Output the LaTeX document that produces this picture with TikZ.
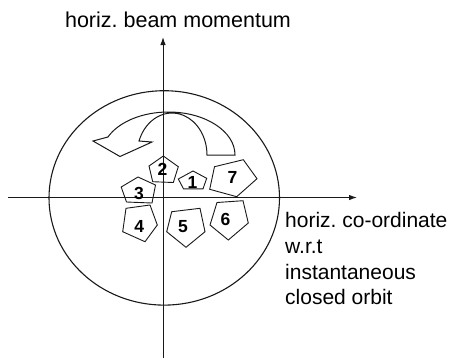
\documentclass[tikz,border=0pt]{standalone}
\usepackage{fontspec}
\setmainfont{Liberation Sans}
\frenchspacing
\usetikzlibrary{arrows.meta}
\begin{document}
\begin{tikzpicture}[x=1pt,y=-1pt,
  ln/.style={line width=1pt, black!90},
  axis/.style={ln, -{Latex[length=8pt,width=5.5pt]}},
  pent/.style={line width=0.9pt, black!90, line join=miter},
  num/.style={font=\fontsize{17.5}{17.5}\selectfont\bfseries, inner sep=0pt},
  lbl/.style={font=\fontsize{21}{25}\selectfont, inner sep=0pt, anchor=base west}]
\useasboundingbox (0,0) rectangle (454,360);
% axes
\coordinate (vb) at (163,358);
\coordinate (vt) at (163,37);
\coordinate (hl) at (8,197.5);
\coordinate (hr) at (357,197.5);
\draw[axis] (vb) -- (vt);
\draw[axis] (hl) -- (hr);
% orbit ellipse
\coordinate (c) at (164.25,197.9);
\draw[ln, line width=1.1pt] (c) ellipse[x radius=115.25pt, y radius=107.2pt];
% curved block arrow
\draw[ln, line join=miter] (235,155)
  arc[start angle=0, end angle=155.25, x radius=66.6pt, y radius=43pt]
  -- (93,141) -- (120,156.5) -- (152,142) -- (139,141)
  arc[start angle=160.5, end angle=0, x radius=35pt, y radius=42pt]
  -- cycle;
% pentagons
\draw[pent] (193,171) -- (206.7,178.3) -- (203,188.8) -- (183.5,188.8) -- (178.3,179) -- cycle;
\node[num] (n1) at (192.5,182) {1};
\draw[pent] (163.3,156) -- (178.3,166.7) -- (173.3,182.5) -- (152.7,181.7) -- (149,166) -- cycle;
\node[num] (n2) at (162.5,169.5) {2};
\draw[pent] (138,177) -- (155.5,185) -- (152,203) -- (126.5,202) -- (121.2,187) -- cycle;
\node[num] (n3) at (139,193.5) {3};
\draw[pent] (126,208.3) -- (150,205) -- (157.3,225) -- (145,241.7) -- (122.7,231.7) -- cycle;
\node[num] (n4) at (139.3,226.7) {4};
\draw[pent] (171.7,211.7) -- (200,208.3) -- (205,231.7) -- (186,247.3) -- (166.7,231.7) -- cycle;
\node[num] (n5) at (183,227) {5};
\draw[pent] (217,202.5) -- (243,200.7) -- (248.3,223) -- (228.3,240) -- (210,225) -- cycle;
\node[num] (n6) at (225.5,219) {6};
\draw[pent] (214.5,166.7) -- (243.3,159.7) -- (257,178.7) -- (236.7,196.7) -- (209.7,189.3) -- cycle;
\node[num] (n7) at (232.5,177) {7};
% labels
\node[lbl, font=\fontsize{21.5}{25}\selectfont, anchor=base] (ylab) at (178,27) {horiz. beam momentum};
\node[lbl] (x1) at (285,227) {horiz. co-ordinate};
\node[lbl] (x2) at (285,253) {w.r.t};
\node[lbl] (x3) at (285,279) {instantaneous};
\node[lbl] (x4) at (285,304.5) {closed orbit};
\end{tikzpicture}
\end{document}
